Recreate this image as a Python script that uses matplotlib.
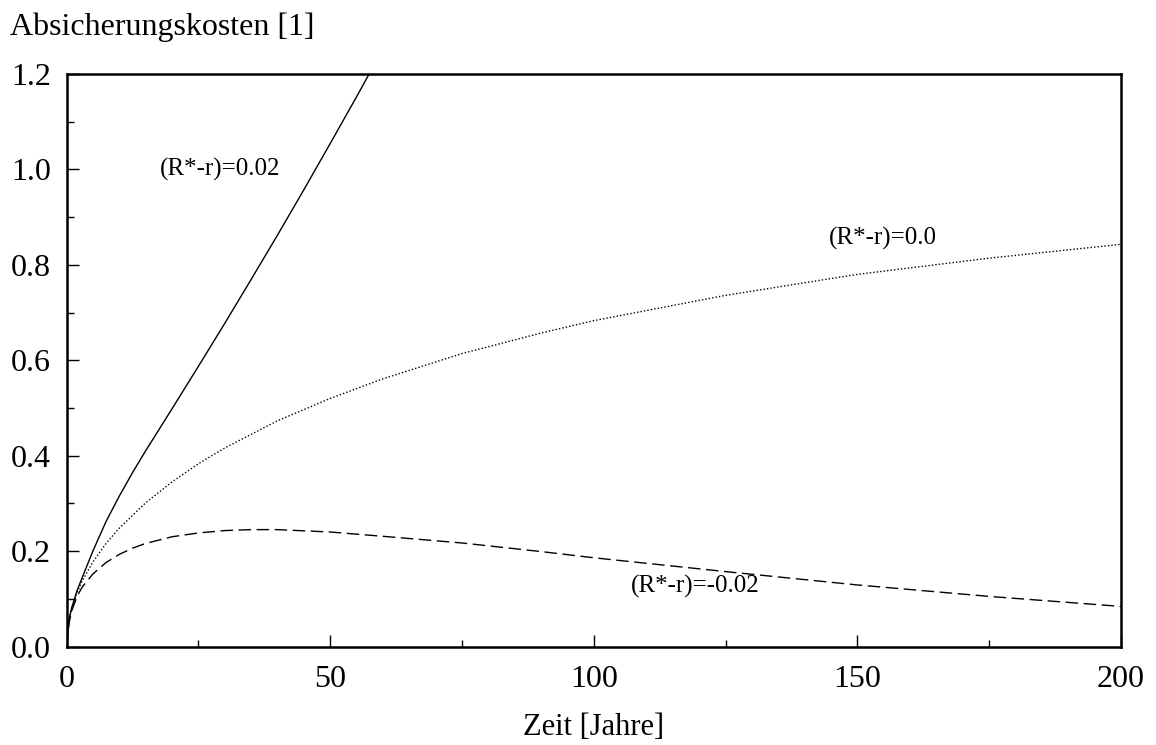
import matplotlib
matplotlib.use("Agg")
import matplotlib.pyplot as plt
from matplotlib.ticker import MultipleLocator

# Zeit [Jahre] und Absicherungskosten
t_pos = [0, 0.5, 1, 2, 3, 5, 7.5, 10, 12.5, 15, 20, 25, 30, 35, 40, 45, 50, 55, 57.4]
cost_pos = [0, 0.058, 0.082, 0.117, 0.145, 0.200, 0.262, 0.315, 0.364, 0.41,
            0.498, 0.587, 0.677, 0.769, 0.862, 0.957, 1.054, 1.152, 1.20]

t_zero = [0, 0.5, 1, 2, 3, 5, 7.5, 10, 15, 20, 25, 30, 40, 50, 60, 75, 90, 100,
          125, 150, 175, 200]
cost_zero = [0, 0.056, 0.080, 0.113, 0.138, 0.177, 0.216, 0.248, 0.301, 0.345,
             0.383, 0.416, 0.473, 0.520, 0.561, 0.614, 0.657, 0.683, 0.736,
             0.780, 0.814, 0.843]

t_neg = [0, 0.5, 1, 2, 3, 5, 7.5, 10, 12.5, 15, 20, 25, 30, 35, 40, 50, 60, 75,
         90, 100, 125, 150, 175, 200]
cost_neg = [0, 0.05, 0.075, 0.105, 0.125, 0.152, 0.176, 0.193, 0.206, 0.216,
            0.23, 0.238, 0.243, 0.245, 0.245, 0.24, 0.231, 0.217, 0.199, 0.186,
            0.157, 0.129, 0.105, 0.084]

labels = ["(R*-r)=0.02", "(R*-r)=0.0", "(R*-r)=-0.02"]

plt.rcParams['font.family'] = ['Liberation Serif', 'DejaVu Serif']

fig = plt.figure(figsize=(11.56, 7.45), dpi=100)
ax = fig.add_axes([66.5 / 1156, 1 - 646.5 / 745, (1121 - 66.5) / 1156, (646.5 - 74) / 745])

ax.plot(t_pos, cost_pos, color='black', lw=1.0)
ax.plot(t_zero, cost_zero, color='black', lw=1.0, linestyle=(0, (1, 1.5)))
ax.plot(t_neg, cost_neg, color='black', lw=1.0, linestyle=(0, (9, 4)))

ax.text(29.1, 1.0, labels[0], fontsize=18, ha='center', va='center')
ax.text(154.9, 0.856, labels[1], fontsize=18, ha='center', va='center')
ax.text(119.2, 0.125, labels[2], fontsize=18, ha='center', va='center')

ax.set_xlim(0, 200)
ax.set_ylim(0, 1.2)
ax.xaxis.set_major_locator(MultipleLocator(50))
ax.xaxis.set_minor_locator(MultipleLocator(25))
ax.yaxis.set_major_locator(MultipleLocator(0.2))
ax.yaxis.set_minor_locator(MultipleLocator(0.1))
ax.yaxis.set_major_formatter(plt.FormatStrFormatter('%.1f'))

ax.tick_params(which='both', direction='in', top=False, right=False,
               labelsize=23, width=1.0)
ax.tick_params(axis='x', which='both', pad=13)
ax.tick_params(axis='y', which='both', pad=11)
ax.tick_params(which='major', length=8.5)
ax.tick_params(which='minor', length=5)
for s in ax.spines.values():
    s.set_linewidth(1.8)

ax.set_xlabel("Zeit [Jahre]", fontsize=22, labelpad=14)
fig.text(10 / 1156, 1 - 35 / 745, "Absicherungskosten [1]", fontsize=23,
         ha='left', va='baseline')

fig.savefig("out.png", dpi=100)
